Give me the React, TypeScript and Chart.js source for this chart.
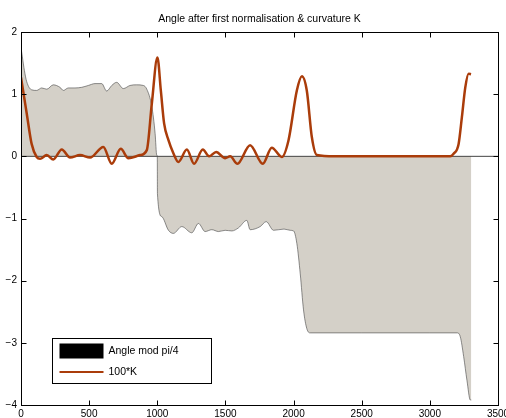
import React, { useEffect, useRef } from 'react';
import { Chart, registerables } from 'chart.js';

Chart.register(...registerables);

const chartTitle = 'Angle after first normalisation & curvature K';
const seriesLabels = ['Angle mod pi/4', '100*K'];
const xTicks = [0, 500, 1000, 1500, 2000, 2500, 3000, 3500];
const yTicks = [-4, -3, -2, -1, 0, 1, 2];

// Angle mod pi/4 (area)
const angleX = [0, 10, 25, 42, 78, 115, 152, 189, 237, 286, 311, 347, 396, 445, 494, 543, 592, 629, 666, 702, 751, 800, 849, 898, 923, 960, 984, 996, 1000,
  1001, 1033, 1082, 1118, 1180, 1253, 1302, 1351, 1400, 1449, 1498, 1547, 1596, 1657, 1681, 1755, 1799, 1853, 1930, 1975, 2000, 2024, 2049, 2073, 2097, 2122,
  2500, 3000, 3199, 3223, 3248, 3272, 3297, 3304];
const angleY = [1.75, 1.6, 1.38, 1.2, 1.07, 1.06, 1.1, 1.08, 1.15, 1.11, 1.06, 1.1, 1.1, 1.11, 1.14, 1.17, 1.17, 1.05, 1.14, 1.19, 1.09, 1.14, 1.15, 1.14, 1.08, 0.8, 0.37, 0.02, 0,
  -0.6, -0.97, -1.19, -1.24, -1.13, -1.23, -1.08, -1.21, -1.18, -1.21, -1.19, -1.2, -1.15, -1.03, -1.18, -1.13, -1.05, -1.19, -1.17, -1.19, -1.2, -1.4, -1.89, -2.47, -2.77, -2.84,
  -2.84, -2.84, -2.84, -2.9, -3.22, -3.6, -3.92, -3.92];

// 100*K (line)
const kX = [0, 42, 78, 115, 140, 189, 237, 299, 360, 433, 507, 604, 666, 732, 788, 874, 923, 960, 1001, 1026, 1050, 1082, 1118, 1155, 1217, 1270, 1334, 1380, 1432,
  1498, 1535, 1588, 1681, 1774, 1840, 1914, 1963, 2024, 2061, 2097, 2134, 2171, 2300, 2600, 2900, 3150, 3174, 3211, 3235, 3260, 3284, 3302];
const kY = [1.27, 0.69, 0.2, -0.01, -0.04, 0.02, -0.05, 0.11, -0.02, 0.02, -0.02, 0.15, -0.12, 0.12, -0.03, 0.02, 0.1, 0.85, 1.59, 1.06, 0.53, 0.26, 0.05, -0.09, 0.11, -0.12, 0.11, 0.0, 0.07,
  -0.03, 0.0, -0.12, 0.18, -0.12, 0.14, -0.01, 0.26, 1.06, 1.29, 1.06, 0.31, 0.02, 0, 0, 0, 0, 0.04, 0.2, 0.63, 1.11, 1.33, 1.32];

const baseX = [0, 3500];
const baseY = [0, 0];

const FONT = "'Liberation Sans', Arial, Helvetica, sans-serif";
const GRAY = '#d4d0c8';
const RED = 'rgb(170,60,10)';

const fmt = (v: number) => (v < 0 ? '\u2212' + Math.abs(v) : String(v));

const framePlugin = {
  id: 'matlabFrame',
  afterDraw(chart: any) {
    const { ctx, chartArea: a, scales } = chart;
    const L = Math.round(a.left) + 0.5, R = Math.round(a.right) + 0.5;
    const T = Math.round(a.top) + 0.5, B = Math.round(a.bottom) + 0.5;
    ctx.save();
    ctx.strokeStyle = '#000';
    ctx.lineWidth = 1;
    ctx.strokeRect(L, T, R - L, B - T);
    const tl = 5;
    ctx.beginPath();
    xTicks.forEach((v) => {
      const px = Math.round(scales.x.getPixelForValue(v)) + 0.5;
      ctx.moveTo(px, B); ctx.lineTo(px, B - tl);
      ctx.moveTo(px, T); ctx.lineTo(px, T + tl);
    });
    yTicks.forEach((v) => {
      const py = Math.round(scales.y.getPixelForValue(v)) + 0.5;
      ctx.moveTo(L, py); ctx.lineTo(L + tl, py);
      ctx.moveTo(R, py); ctx.lineTo(R - tl, py);
    });
    ctx.stroke();

    // title, centred over the axes
    ctx.fillStyle = '#000';
    ctx.font = `10.5px ${FONT}`;
    ctx.textAlign = 'center';
    ctx.textBaseline = 'middle';
    ctx.fillText(chartTitle, (a.left + a.right) / 2, a.top - 13);

    // legend
    const lx = Math.round(a.left) + 31.5;
    const ly = Math.round(a.bottom) - 66.5;
    const lw = 159, lh = 45;
    ctx.fillStyle = '#fff';
    ctx.fillRect(lx, ly, lw, lh);
    ctx.strokeStyle = '#000';
    ctx.strokeRect(lx, ly, lw, lh);
    ctx.fillStyle = '#000';
    ctx.fillRect(lx + 7, ly + 5, 44, 15);
    ctx.strokeStyle = RED;
    ctx.lineWidth = 2;
    ctx.beginPath();
    ctx.moveTo(lx + 7, ly + 33.5);
    ctx.lineTo(lx + 51, ly + 33.5);
    ctx.stroke();
    ctx.fillStyle = '#000';
    ctx.font = `10.5px ${FONT}`;
    ctx.textBaseline = 'middle';
    ctx.textAlign = 'left';
    ctx.fillText(seriesLabels[0], lx + 56, ly + 13);
    ctx.fillText(seriesLabels[1], lx + 56, ly + 33.5);
    ctx.restore();
  },
};

export default function App() {
  const ref = useRef<HTMLCanvasElement | null>(null);
  useEffect(() => {
    if (!ref.current) return;
    const chart = new Chart(ref.current, {
      type: 'line',
      data: {
        datasets: [
          {
            label: seriesLabels[1],
            data: kX.map((x, i) => ({ x, y: kY[i] })),
            borderColor: RED,
            borderWidth: 2.5,
            pointRadius: 0,
            fill: false,
            cubicInterpolationMode: 'monotone',
            order: 1,
          },
          {
            label: 'baseline',
            data: baseX.map((x, i) => ({ x, y: baseY[i] })),
            borderColor: '#444',
            borderWidth: 1,
            pointRadius: 0,
            fill: false,
            order: 2,
          },
          {
            label: seriesLabels[0],
            data: angleX.map((x, i) => ({ x, y: angleY[i] })),
            borderColor: '#444',
            borderWidth: 0.6,
            backgroundColor: GRAY,
            pointRadius: 0,
            fill: 'origin',
            cubicInterpolationMode: 'monotone',
            order: 3,
          },
        ],
      },
      options: {
        animation: false,
        responsive: false,
        maintainAspectRatio: false,
        events: [],
        layout: { padding: { left: 0, right: 8, top: 32, bottom: 0 }, autoPadding: false } as any,
        plugins: {
          legend: { display: false },
          tooltip: { enabled: false },
          title: { display: false },
        },
        scales: {
          x: {
            type: 'linear',
            min: 0,
            max: 3500,
            afterBuildTicks: (s: any) => { s.ticks = xTicks.map((v) => ({ value: v })); },
            afterFit: (s: any) => { s.height = 13; s.paddingLeft = 0; s.paddingRight = 0; },
            grid: { display: false, drawTicks: false },
            border: { display: false },
            ticks: {
              color: '#000',
              padding: 3,
              maxRotation: 0,
              autoSkip: false,
              font: { family: FONT, size: 10 },
              callback: (v: any) => fmt(Number(v)),
            },
          },
          y: {
            type: 'linear',
            min: -4,
            max: 2,
            afterBuildTicks: (s: any) => { s.ticks = yTicks.map((v) => ({ value: v })); },
            afterFit: (s: any) => { s.width = 21; s.paddingTop = 0; s.paddingBottom = 0; },
            grid: { display: false, drawTicks: false },
            border: { display: false },
            ticks: {
              color: '#000',
              padding: 4,
              autoSkip: false,
              font: { family: FONT, size: 10 },
              callback: (v: any) => fmt(Number(v)),
            },
          },
        },
      } as any,
      plugins: [framePlugin],
    });
    return () => chart.destroy();
  }, []);
  return (
    <div style={{ position: 'fixed', left: 0, top: 0, width: 506, height: 418, background: '#fff' }}>
      <canvas ref={ref} width={506} height={418} style={{ width: 506, height: 418, display: 'block' }} />
    </div>
  );
}
